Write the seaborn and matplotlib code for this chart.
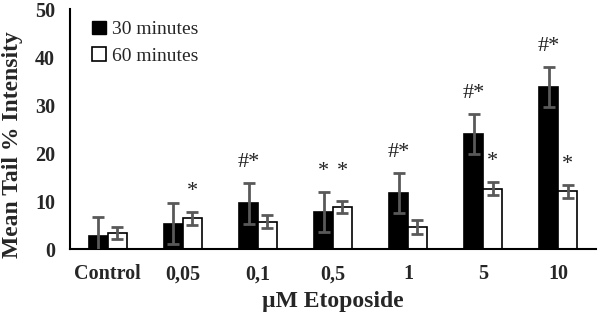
import matplotlib
matplotlib.use("Agg")
import matplotlib.pyplot as plt
import seaborn as sns
import pandas as pd
import numpy as np
from matplotlib.patches import Patch

categories = ["Control", "0,05", "0,1", "0,5", "1", "5", "10"]
series = ["30 minutes", "60 minutes"]
mean_30 = [2.7, 5.3, 9.5, 7.7, 11.6, 24.0, 33.8]
err_30 = [4.0, 4.3, 4.3, 4.2, 4.2, 4.2, 4.2]
mean_60 = [3.3, 6.4, 5.7, 8.8, 4.6, 12.6, 12.0]
err_60 = [1.3, 1.4, 1.4, 1.2, 1.4, 1.3, 1.3]
marks_30 = ["", "", "#*", "*", "#*", "#*", "#*"]
marks_60 = ["", "*", "", "*", "", "*", "*"]

df = pd.DataFrame({
    "cat": categories * 2,
    "series": [series[0]] * len(categories) + [series[1]] * len(categories),
    "mean": mean_30 + mean_60,
    "err": err_30 + err_60,
    "mark": marks_30 + marks_60,
})

sns.set_style("white")
plt.rcParams["font.family"] = ["Liberation Serif", "DejaVu Serif"]

fig = plt.figure(figsize=(6.0, 3.14), dpi=100)
ax = fig.add_axes([0.117, 0.207, 0.876, 0.764])

sns.barplot(data=df, x="cat", y="mean", hue="series", order=categories,
            hue_order=series, palette=["black", "white"], edgecolor="black",
            linewidth=1.2, width=0.5, errorbar=None, ax=ax, legend=False)

# error bars and annotations from bar patches
bars = [p for p in ax.patches if p.get_width() > 0]
vals = [mean_30, mean_60]
errs = [err_30, err_60]
marks = [marks_30, marks_60]
n = len(categories)
tops = {}
for si in range(2):
    for ci in range(n):
        p = bars[si * n + ci]
        xc = p.get_x() + p.get_width() / 2
        ax.errorbar(xc, vals[si][ci], yerr=errs[si][ci], fmt="none",
                    ecolor="#595959", elinewidth=2, capsize=4.5, capthick=2,
                    zorder=5)
        tops[(si, ci)] = (xc, vals[si][ci] + errs[si][ci])

for ci in range(n):
    for si in range(2):
        m = marks[si][ci]
        if not m:
            continue
        xc, top = tops[(si, ci)]
        y = top + 2.3
        if marks[0][ci] and marks[1][ci] and categories[ci] == "0,5":
            y = max(tops[(0, ci)][1], tops[(1, ci)][1]) + 2.3
        ax.text(xc, y, m, ha="center", va="bottom", fontsize=16,
                color="#222222")

ax.set_ylim(0, 50)
ax.set_yticks([0, 10, 20, 30, 40, 50])
ax.set_xlim(-0.5, n - 0.5)
ax.tick_params(axis="both", length=0, labelsize=14.5, pad=11)
for lab in ax.get_xticklabels() + ax.get_yticklabels():
    lab.set_fontweight("bold")
ax.set_xlabel("µM Etoposide", fontsize=17, fontweight="bold", labelpad=5)
ax.set_ylabel("Mean Tail % Intensity", fontsize=17, fontweight="bold")
ax.yaxis.set_label_coords(-0.09, 0.435)
for s in ["top", "right"]:
    ax.spines[s].set_visible(False)
for s in ["left", "bottom"]:
    ax.spines[s].set_color("black")
    ax.spines[s].set_linewidth(1.5)

handles = [Patch(facecolor="black", edgecolor="black", label=series[0]),
           Patch(facecolor="white", edgecolor="black", linewidth=1.2, label=series[1])]
ax.legend(handles=handles, loc="upper left", bbox_to_anchor=(0.02, 1.0),
          frameon=False, fontsize=14, handlelength=0.7, handleheight=0.7,
          handletextpad=0.3, labelspacing=0.45, borderaxespad=0.2)

fig.savefig("out.png", dpi=100)
